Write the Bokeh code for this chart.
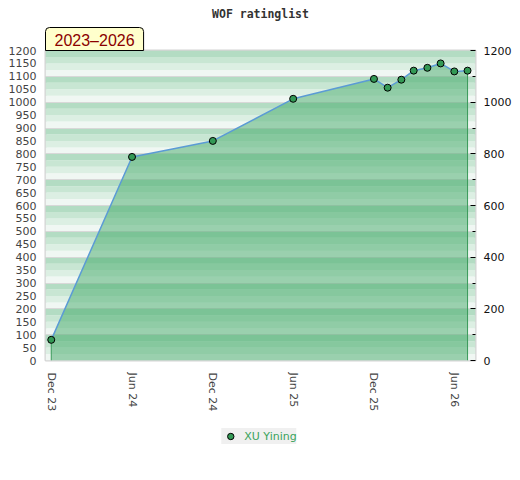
import pandas as pd
from bokeh.plotting import figure
from bokeh.layouts import column
from bokeh.models import (Range1d, LinearAxis, FixedTicker, DatetimeTickFormatter,
                          BoxAnnotation, Title, Legend, LegendItem, ColumnDataSource)
from bokeh.embed import file_html
from bokeh.resources import INLINE

# ---- data ----
dates = ["2023-12-01", "2024-06-01", "2024-12-01", "2025-06-01", "2025-12-01",
         "2026-01-01", "2026-02-01", "2026-03-01", "2026-04-01", "2026-05-01",
         "2026-06-01", "2026-07-01"]
ratings = [80, 788, 850, 1013, 1090, 1056, 1087, 1122, 1133, 1150, 1119, 1122]
player = "XU Yining"
title_text = "WOF ratinglist"
period_text = "2023\u20132026"
x_tick_dates = ["2023-12-01", "2024-06-01", "2024-12-01", "2025-06-01", "2025-12-01", "2026-06-01"]
left_ticks = list(range(0, 1250, 50))
right_major = list(range(0, 1400, 200))
right_minor = list(range(100, 1200, 200))
band_steps = list(range(0, 1200, 25))
stripe_colors = ["#f0f7f3", "#dcefe3", "#c8e6d3", "#b3dcc3"]

dt = pd.to_datetime(dates)
src = ColumnDataSource(dict(x=dt, y=ratings))
edge_src = ColumnDataSource(dict(x=[dt[0], dt[-1]], y0=[0, 0], y1=[ratings[0], ratings[-1]]))

MARK = dict(size=7, fill_color="#339955", line_color="black", line_width=1)

p = figure(frame_width=430, frame_height=310,
           min_border_left=45, min_border_right=37,
           min_border_top=50, min_border_bottom=50,
           x_axis_type="datetime",
           x_range=Range1d(pd.Timestamp("2023-11-18"), pd.Timestamp("2026-07-19")),
           y_range=Range1d(0, 1200),
           output_backend="svg", toolbar_location=None, title=None)
p.background_fill_color = "white"
p.border_fill_color = "white"
p.outline_line_color = "#d4d4d4"
p.outline_line_width = 2

# background stripes
for i, b in enumerate(band_steps):
    p.add_layout(BoxAnnotation(bottom=b, top=b + 25, fill_color=stripe_colors[i % 4],
                               fill_alpha=1, line_color=None, level="image"))

p.xgrid.visible = False
p.ygrid.ticker = FixedTicker(ticks=list(range(0, 1300, 100)))
p.ygrid.grid_line_color = "#d8d8d8"
p.ygrid.grid_line_width = 1

# area
p.varea(x="x", y1=0, y2="y", source=src, fill_color="#44aa6a", fill_alpha=0.5)
p.segment(x0="x", y0="y0", x1="x", y1="y1", source=edge_src, line_color="#3a9a5a", line_width=1)
p.line("x", "y", source=src, line_color="#5b9bd5", line_width=1.5)
p.scatter("x", "y", source=src, **MARK)

# x axis
xa = p.xaxis[0]
xa.ticker = FixedTicker(ticks=[pd.Timestamp(d).timestamp() * 1000 for d in x_tick_dates])
fmt = "%b %y"
xa.formatter = DatetimeTickFormatter(days=fmt, months=fmt, years=fmt, hours=fmt,
                                     minutes=fmt, seconds=fmt, milliseconds=fmt,
                                     microseconds=fmt, minsec=fmt, hourmin=fmt)
xa.major_label_orientation = "vertical"
xa.major_tick_line_color = None
xa.minor_tick_line_color = None
xa.major_tick_out = 0
xa.axis_line_color = None
xa.major_label_standoff = 12
xa.major_label_text_font = "DejaVu Sans"
xa.major_label_text_font_size = "11px"
xa.major_label_text_color = "#444444"

# left axis
ya = p.yaxis[0]
ya.ticker = FixedTicker(ticks=left_ticks)
ya.major_tick_line_color = None
ya.minor_tick_line_color = None
ya.major_tick_out = 0
ya.axis_line_color = None
ya.major_label_standoff = 9
ya.major_label_text_font = "DejaVu Sans"
ya.major_label_text_font_size = "11px"
ya.major_label_text_color = "#444444"

# right axis
ra = LinearAxis(ticker=FixedTicker(ticks=right_major, minor_ticks=right_minor))
ra.major_tick_in = 5
ra.major_tick_out = 0
ra.minor_tick_in = 3
ra.minor_tick_out = 0
ra.major_tick_line_color = "black"
ra.minor_tick_line_color = "black"
ra.axis_line_color = None
ra.major_label_standoff = 8
ra.major_label_text_font = "DejaVu Sans"
ra.major_label_text_font_size = "11px"
ra.major_label_text_color = "#111111"
p.add_layout(ra, "right")

# period box (closest to frame) and title
p.add_layout(Title(text=period_text, align="left", standoff=0, offset=0,
                   text_font="Liberation Sans", text_font_size="16px", text_font_style="normal",
                   text_color="#8b0000",
                   background_fill_color="#ffffcc", border_line_color="black",
                   border_line_width=1, padding=dict(left=9, right=9, top=4, bottom=2),
                   border_radius=dict(top_left=4, top_right=4, bottom_right=0, bottom_left=0)),
             "above")
p.add_layout(Title(text=title_text, align="center", standoff=9,
                   text_font="DejaVu Sans Mono", text_font_style="bold",
                   text_font_size="11.5px", text_color="#333333"), "above")

# legend strip below the chart (its scatter's points fall outside this strip's ranges)
lf = figure(width=512, height=44, min_border=0,
            x_range=Range1d(0, 1), y_range=Range1d(0, 1),
            x_axis_location=None, y_axis_location=None,
            output_backend="svg", toolbar_location=None, title=None)
lf.outline_line_color = None
lf.grid.visible = False
lf.background_fill_color = "white"
lf.border_fill_color = "white"
lr = lf.scatter("x", "y", source=src, **MARK)
legend = Legend(items=[LegendItem(label=player, renderers=[lr])],
                location="center", orientation="horizontal",
                background_fill_color="#f0f0f0", background_fill_alpha=1,
                border_line_color=None, padding=2, margin=0,
                glyph_width=18, glyph_height=16, label_height=16, label_standoff=5,
                label_text_font="DejaVu Sans", label_text_font_size="11px",
                label_text_color="#3aa35a")
lf.add_layout(legend, "center")

open("out.html", "w").write(file_html(column(p, lf), INLINE))
